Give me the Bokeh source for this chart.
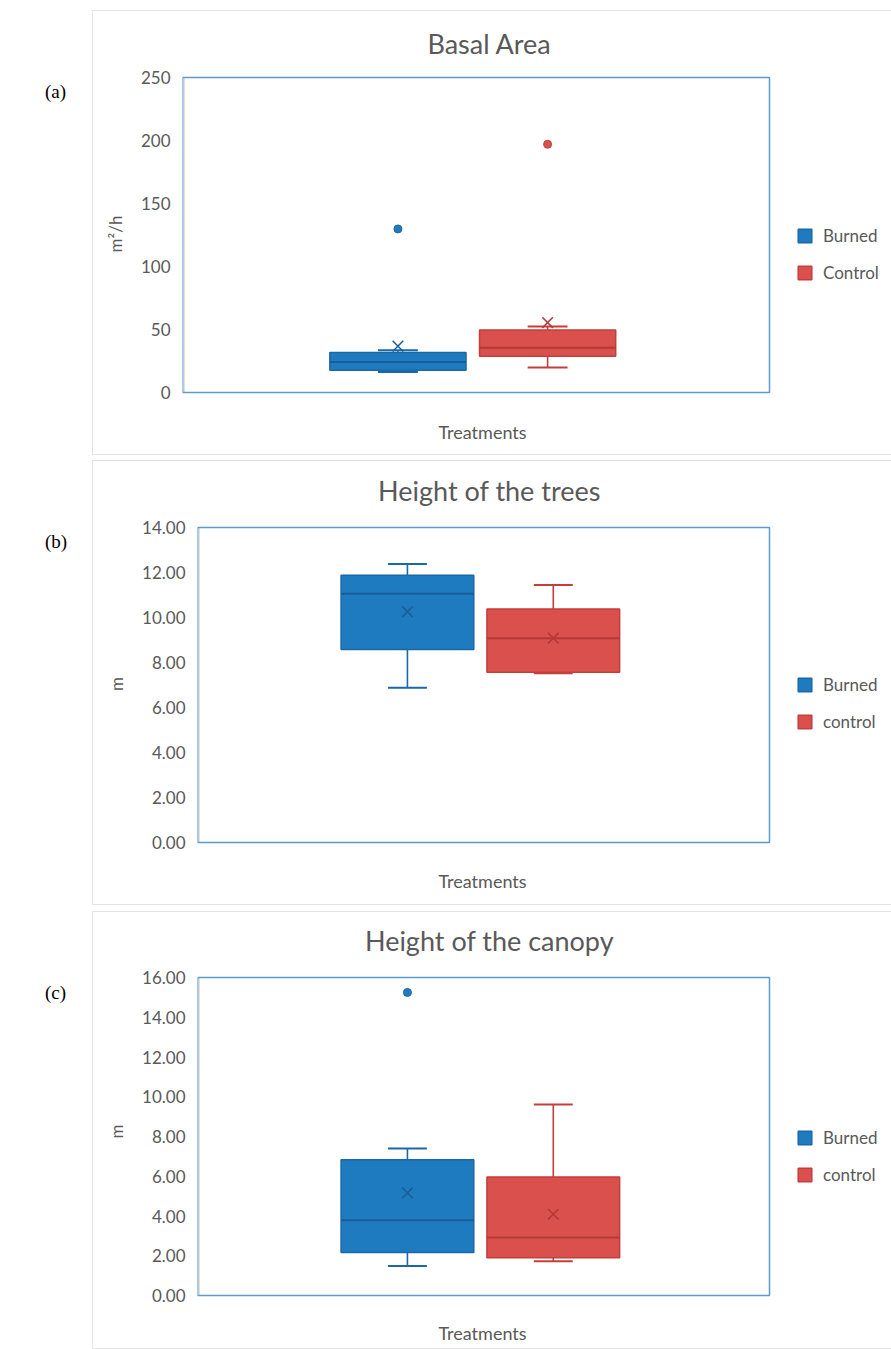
from bokeh.plotting import figure
from bokeh.layouts import column, row
from bokeh.models import (Range1d, FixedTicker, NumeralTickFormatter, Legend,
                          LegendItem, BoxAnnotation, Label, Div, Spacer)
from bokeh.embed import file_html
from bokeh.resources import INLINE

# ---------------- data ----------------
series = ["Burned", "Control"]

# (a) Basal Area, m2/h
a_q1 = [17.6, 28.8]
a_median = [24.3, 35.5]
a_q3 = [31.8, 49.7]
a_low = [16.3, 19.8]
a_high = [33.6, 52.3]
a_mean = [36.8, 55.5]
a_outliers = [[129.8], [197.0]]
a_ticks = [0, 50, 100, 150, 200, 250]
a_legend = ["Burned", "Control"]

# (b) Height of the trees, m
b_q1 = [8.58, 7.57]
b_median = [11.06, 9.08]
b_q3 = [11.88, 10.38]
b_low = [6.88, 7.52]
b_high = [12.38, 11.45]
b_mean = [10.26, 9.08]
b_outliers = [[], []]
b_ticks = [0, 2, 4, 6, 8, 10, 12, 14]
b_legend = ["Burned", "control"]

# (c) Height of the canopy, m
c_q1 = [2.16, 1.90]
c_median = [3.79, 2.92]
c_q3 = [6.83, 5.96]
c_low = [1.48, 1.72]
c_high = [7.39, 9.61]
c_mean = [5.16, 4.09]
c_outliers = [[15.25], []]
c_ticks = [0, 2, 4, 6, 8, 10, 12, 14, 16]
c_legend = ["Burned", "control"]

# ---------------- styles ----------------
FILL = ["#1F7BBF", "#D9504D"]
EDGE = ["#1B68A6", "#C43E3C"]
DARK = ["#195E97", "#B33836"]
TXT = "#595959"
FONT = "Lato"
CENTERS = [0.367, 0.622]
BOX_W = 0.232
CAP_HALF = 0.034
FIG_W = 799
BOX_RIGHT_PX = 676      # right edge of the plot box inside the figure canvas
LEGEND_X_PX = 703       # left edge of the legend swatches inside the canvas
TITLE_X_PX = 396        # title centre inside the canvas
XLAB_X_PX = 389         # "Treatments" centre inside the canvas


def make_panel(tag, title, ylabel, q1, med, q3, lo, hi, mean, outs, ticks,
               fmt, leg_labels, height, left, box_top, box_bottom,
               title_y, legend_y, xlab_y):
    ymax = ticks[-1]
    box_w = BOX_RIGHT_PX - left
    frame_w = FIG_W - left
    scale = ymax / (box_bottom - box_top)
    y_end = ymax + box_top * scale
    y_start = -(height - box_bottom) * scale
    x_end = frame_w / box_w

    p = figure(width=FIG_W, height=height, output_backend="svg",
               toolbar_location=None, x_range=Range1d(0, x_end),
               y_range=Range1d(y_start, y_end), x_axis_location=None,
               min_border_left=left, min_border_right=0, min_border_top=0,
               min_border_bottom=0, margin=0,
               styles={"border-left": "1px solid #E4E4E4",
                       "border-top": "1px solid #E4E4E4",
                       "border-bottom": "1px solid #E4E4E4",
                       "box-sizing": "border-box"})
    p.grid.visible = False
    p.outline_line_color = None
    p.background_fill_color = "white"
    p.border_fill_color = "white"

    ya = p.yaxis[0]
    ya.ticker = FixedTicker(ticks=ticks)
    ya.formatter = NumeralTickFormatter(format=fmt)
    ya.axis_line_color = None
    ya.major_tick_line_color = None
    ya.minor_tick_line_color = None
    ya.major_tick_out = 0
    ya.major_tick_in = 0
    ya.major_label_text_font = FONT
    ya.major_label_text_font_size = "17px"
    ya.major_label_text_color = TXT
    ya.major_label_standoff = 12
    ya.axis_label = ylabel
    ya.axis_label_text_font = FONT
    ya.axis_label_text_font_size = "17px"
    ya.axis_label_text_color = TXT
    ya.axis_label_text_font_style = "normal"
    ya.axis_label_standoff = 12

    # plot-area box and faint inner axis line
    p.add_layout(BoxAnnotation(left=0, right=0.004, bottom=0, top=ymax,
                               fill_color="#D9D9D9", fill_alpha=1,
                               line_color=None, level="underlay"))
    p.add_layout(BoxAnnotation(left=0, right=1, bottom=0, top=ymax,
                               fill_alpha=0, line_color="#5B9BD5",
                               line_alpha=1, line_width=1.5, level="underlay"))

    items = []
    for i in range(2):
        xc = CENTERS[i]
        p.segment(x0=[xc, xc], y0=[lo[i], q3[i]], x1=[xc, xc],
                  y1=[q1[i], hi[i]], line_color=EDGE[i], line_width=1.6)
        p.segment(x0=[xc - CAP_HALF, xc - CAP_HALF], y0=[lo[i], hi[i]],
                  x1=[xc + CAP_HALF, xc + CAP_HALF], y1=[lo[i], hi[i]],
                  line_color=EDGE[i], line_width=2)
        box = p.vbar(x=[xc], width=BOX_W, bottom=[q1[i]], top=[q3[i]],
                     fill_color=FILL[i], line_color=EDGE[i], line_width=1.5)
        p.segment(x0=[xc - BOX_W / 2], y0=[med[i]], x1=[xc + BOX_W / 2],
                  y1=[med[i]], line_color=DARK[i], line_width=2)
        p.scatter(x=[xc], y=[mean[i]], marker="x", size=15,
                  line_color=DARK[i], line_width=1.5)
        if outs[i]:
            p.scatter(x=[xc] * len(outs[i]), y=outs[i], marker="circle",
                      size=8, fill_color=FILL[i], line_color=EDGE[i])
        items.append(LegendItem(label=leg_labels[i], renderers=[box]))

    legend = Legend(items=items,
                    location=(LEGEND_X_PX - left, height - legend_y),
                    padding=0, margin=0, spacing=16, glyph_width=17,
                    glyph_height=17, label_standoff=10,
                    label_text_font=FONT, label_text_font_size="17px",
                    label_text_color=TXT, border_line_color=None,
                    background_fill_alpha=0)
    p.add_layout(legend)

    p.add_layout(Label(x=TITLE_X_PX - left, y=height - title_y,
                       x_units="screen", y_units="screen", text=title,
                       text_font=FONT, text_font_size="27px", text_color=TXT,
                       text_align="center", text_baseline="middle"))
    p.add_layout(Label(x=XLAB_X_PX - left, y=height - xlab_y,
                       x_units="screen", y_units="screen", text="Treatments",
                       text_font=FONT, text_font_size="18px", text_color=TXT,
                       text_align="center", text_baseline="middle"))

    d = Div(text=tag, width=92, height=120, margin=0,
            styles={"font-family": "Liberation Serif", "font-size": "19px",
                    "padding-left": "45px", "padding-top": "68px",
                    "box-sizing": "border-box", "color": "black"})
    return row(d, p, margin=0)


# canvas-relative pixel positions: box top / bottom, title centre,
# legend bottom, x-label centre
ra = make_panel("(a)", "Basal Area", "m\u00b2/h", a_q1, a_median, a_q3, a_low,
                a_high, a_mean, a_outliers, a_ticks, "0", a_legend,
                445, 89, 66, 381, 32, 272, 420)
rb = make_panel("(b)", "Height of the trees", "m", b_q1, b_median, b_q3, b_low,
                b_high, b_mean, b_outliers, b_ticks, "0.00", b_legend,
                445, 104, 66, 381, 29, 271, 419)
rc = make_panel("(c)", "Height of the canopy", "m", c_q1, c_median, c_q3, c_low,
                c_high, c_mean, c_outliers, c_ticks, "0.00", c_legend,
                438, 104, 65, 383, 28, 273, 420)

layout = column(Spacer(height=10, margin=0), ra, Spacer(height=5, margin=0), rb,
                Spacer(height=6, margin=0), rc, margin=0)
open("out.html", "w").write(file_html(layout, INLINE))
